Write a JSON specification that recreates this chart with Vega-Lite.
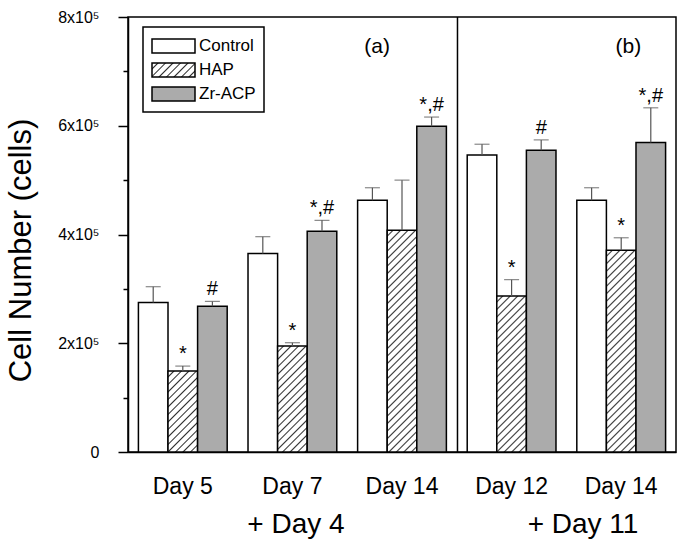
{
"$schema": "https://vega.github.io/schema/vega-lite/v6.json",
"width": 548, "height": 435,
"autosize": {"type": "none"},
"padding": {"left": 128, "top": 17, "right": 12, "bottom": 95},
"params": [{"name": "hatch", "value": [
{"offset":0,"color":"#fff"},{"offset":0.016667,"color":"#fff"},{"offset":0.022222,"color":"#333"},
{"offset":0.027778,"color":"#fff"},{"offset":0.044444,"color":"#fff"},{"offset":0.05,"color":"#333"},
{"offset":0.055556,"color":"#fff"},{"offset":0.072222,"color":"#fff"},{"offset":0.077778,"color":"#333"},
{"offset":0.083333,"color":"#fff"},{"offset":0.1,"color":"#fff"},{"offset":0.105556,"color":"#333"},
{"offset":0.111111,"color":"#fff"},{"offset":0.127778,"color":"#fff"},{"offset":0.133333,"color":"#333"},
{"offset":0.138889,"color":"#fff"},{"offset":0.155556,"color":"#fff"},{"offset":0.161111,"color":"#333"},
{"offset":0.166667,"color":"#fff"},{"offset":0.183333,"color":"#fff"},{"offset":0.188889,"color":"#333"},
{"offset":0.194444,"color":"#fff"},{"offset":0.211111,"color":"#fff"},{"offset":0.216667,"color":"#333"},
{"offset":0.222222,"color":"#fff"},{"offset":0.238889,"color":"#fff"},{"offset":0.244444,"color":"#333"},
{"offset":0.25,"color":"#fff"},{"offset":0.266667,"color":"#fff"},{"offset":0.272222,"color":"#333"},
{"offset":0.277778,"color":"#fff"},{"offset":0.294444,"color":"#fff"},{"offset":0.3,"color":"#333"},
{"offset":0.305556,"color":"#fff"},{"offset":0.322222,"color":"#fff"},{"offset":0.327778,"color":"#333"},
{"offset":0.333333,"color":"#fff"},{"offset":0.35,"color":"#fff"},{"offset":0.355556,"color":"#333"},
{"offset":0.361111,"color":"#fff"},{"offset":0.377778,"color":"#fff"},{"offset":0.383333,"color":"#333"},
{"offset":0.388889,"color":"#fff"},{"offset":0.405556,"color":"#fff"},{"offset":0.411111,"color":"#333"},
{"offset":0.416667,"color":"#fff"},{"offset":0.433333,"color":"#fff"},{"offset":0.438889,"color":"#333"},
{"offset":0.444444,"color":"#fff"},{"offset":0.461111,"color":"#fff"},{"offset":0.466667,"color":"#333"},
{"offset":0.472222,"color":"#fff"},{"offset":0.488889,"color":"#fff"},{"offset":0.494444,"color":"#333"},
{"offset":0.5,"color":"#fff"},{"offset":0.516667,"color":"#fff"},{"offset":0.522222,"color":"#333"},
{"offset":0.527778,"color":"#fff"},{"offset":0.544444,"color":"#fff"},{"offset":0.55,"color":"#333"},
{"offset":0.555556,"color":"#fff"},{"offset":0.572222,"color":"#fff"},{"offset":0.577778,"color":"#333"},
{"offset":0.583333,"color":"#fff"},{"offset":0.6,"color":"#fff"},{"offset":0.605556,"color":"#333"},
{"offset":0.611111,"color":"#fff"},{"offset":0.627778,"color":"#fff"},{"offset":0.633333,"color":"#333"},
{"offset":0.638889,"color":"#fff"},{"offset":0.655556,"color":"#fff"},{"offset":0.661111,"color":"#333"},
{"offset":0.666667,"color":"#fff"},{"offset":0.683333,"color":"#fff"},{"offset":0.688889,"color":"#333"},
{"offset":0.694444,"color":"#fff"},{"offset":0.711111,"color":"#fff"},{"offset":0.716667,"color":"#333"},
{"offset":0.722222,"color":"#fff"},{"offset":0.738889,"color":"#fff"},{"offset":0.744444,"color":"#333"},
{"offset":0.75,"color":"#fff"},{"offset":0.766667,"color":"#fff"},{"offset":0.772222,"color":"#333"},
{"offset":0.777778,"color":"#fff"},{"offset":0.794444,"color":"#fff"},{"offset":0.8,"color":"#333"},
{"offset":0.805556,"color":"#fff"},{"offset":0.822222,"color":"#fff"},{"offset":0.827778,"color":"#333"},
{"offset":0.833333,"color":"#fff"},{"offset":0.85,"color":"#fff"},{"offset":0.855556,"color":"#333"},
{"offset":0.861111,"color":"#fff"},{"offset":0.877778,"color":"#fff"},{"offset":0.883333,"color":"#333"},
{"offset":0.888889,"color":"#fff"},{"offset":0.905556,"color":"#fff"},{"offset":0.911111,"color":"#333"},
{"offset":0.916667,"color":"#fff"},{"offset":0.933333,"color":"#fff"},{"offset":0.938889,"color":"#333"},
{"offset":0.944444,"color":"#fff"},{"offset":0.961111,"color":"#fff"},{"offset":0.966667,"color":"#333"},
{"offset":0.972222,"color":"#fff"},{"offset":0.988889,"color":"#fff"},{"offset":0.994444,"color":"#333"},
{"offset":1,"color":"#fff"}
]}],
"data": {"values": [
{"day":"D5","group":"Control","cells":275000,"cap":304000,"sig":""},
{"day":"D5","group":"HAP","cells":149000,"cap":158000,"sig":"*"},
{"day":"D5","group":"Zr-ACP","cells":268000,"cap":277000,"sig":"#"},
{"day":"D7","group":"Control","cells":365000,"cap":396000,"sig":""},
{"day":"D7","group":"HAP","cells":195000,"cap":201000,"sig":"*"},
{"day":"D7","group":"Zr-ACP","cells":406000,"cap":426000,"sig":"*,#"},
{"day":"D14a","group":"Control","cells":463000,"cap":486000,"sig":""},
{"day":"D14a","group":"HAP","cells":408000,"cap":500000,"sig":""},
{"day":"D14a","group":"Zr-ACP","cells":599000,"cap":616000,"sig":"*,#"},
{"day":"D12","group":"Control","cells":546000,"cap":566000,"sig":""},
{"day":"D12","group":"HAP","cells":287000,"cap":317000,"sig":"*"},
{"day":"D12","group":"Zr-ACP","cells":555000,"cap":574000,"sig":"#"},
{"day":"D14b","group":"Control","cells":463000,"cap":486000,"sig":""},
{"day":"D14b","group":"HAP","cells":371000,"cap":394000,"sig":"*"},
{"day":"D14b","group":"Zr-ACP","cells":569000,"cap":633000,"sig":"*,#"}
]},
"layer": [
{
"mark": {"type": "bar", "stroke": "black", "strokeWidth": 1.5},
"encoding": {
"x": {"field": "day", "type": "nominal", "title": null,
 "scale": {"domain": ["D5","D7","D14a","D12","D14b"], "paddingInner": 0.19, "paddingOuter": 0.095},
 "axis": {"ticks": false, "labelFontSize": 23, "labelPadding": 23, "labelAngle": 0,
  "labelExpr": "{'D5':'Day 5','D7':'Day 7','D14a':'Day 14','D12':'Day 12','D14b':'Day 14'}[datum.value]"}},
"xOffset": {"field": "group", "type": "nominal", "scale": {"domain": ["Control","HAP","Zr-ACP"]}},
"y": {"field": "cells", "type": "quantitative", "title": "Cell Number (cells)",
 "scale": {"domain": [0, 800000]},
 "axis": {"values": [0,100000,200000,300000,400000,500000,600000,700000,800000],
  "labelExpr": "datum.value % 200000 === 0 ? (datum.value === 0 ? '0' : (datum.value/100000) + 'x10⁵') : ''",
  "tickSize": {"condition": {"test": "datum.value % 200000 === 0", "value": 10}, "value": 5},
  "labelFontSize": 16, "labelPadding": 19, "titleFontSize": 31, "titleFontWeight": "normal", "titlePadding": 20, "titleY": 233}},
"fill": {"field": "group", "type": "nominal",
 "scale": {"domain": ["Control","HAP","Zr-ACP"], "range": ["#ffffff", {"expr": "{gradient:'linear',x1:0,y1:0,x2:5.677,y2:1.848,stops:hatch}"}, "#ababab"]},
 "condition": {"test": "datum.group === 'HAP'",
  "value": {"expr": "{gradient:'linear',x1:0,y1:0,x2:270*bandwidth('xOffset')/(bandwidth('xOffset')*bandwidth('xOffset')+(scale('y',0)-scale('y',datum.cells))*(scale('y',0)-scale('y',datum.cells))),y2:270*(scale('y',0)-scale('y',datum.cells))/(bandwidth('xOffset')*bandwidth('xOffset')+(scale('y',0)-scale('y',datum.cells))*(scale('y',0)-scale('y',datum.cells))),stops:hatch}"}},
 "legend": {"title": null, "orient": "none", "legendX": 15, "legendY": 10,
  "symbolType": "M-1,-0.7L3.3,-0.7L3.3,0.7L-1,0.7Z", "symbolSize": 400,
  "symbolStrokeColor": "black", "symbolStrokeWidth": 1.5,
  "labelFontSize": 17, "labelOffset": 26, "rowPadding": 3, "padding": 8,
  "strokeColor": "black", "fillColor": "white",
  "encode": {"symbols": {"update": {
   "stroke": {"value": "black"},
   "strokeWidth": {"value": 1.5}}}}}}
}
},
{
"mark": {"type": "rule", "color": "#555", "strokeWidth": 1.2},
"encoding": {
"x": {"field": "day", "type": "nominal", "title": null, "scale": {"domain": ["D5","D7","D14a","D12","D14b"], "paddingInner": 0.19, "paddingOuter": 0.095}},
"xOffset": {"field": "group", "type": "nominal", "scale": {"domain": ["Control","HAP","Zr-ACP"]}},
"y": {"field": "cells", "type": "quantitative", "title": "Cell Number (cells)", "scale": {"domain": [0, 800000]}},
"y2": {"field": "cap"}
}
},
{
"mark": {"type": "tick", "color": "#555", "thickness": 1.2, "size": 15},
"encoding": {
"x": {"field": "day", "type": "nominal", "title": null, "scale": {"domain": ["D5","D7","D14a","D12","D14b"], "paddingInner": 0.19, "paddingOuter": 0.095}},
"xOffset": {"field": "group", "type": "nominal", "scale": {"domain": ["Control","HAP","Zr-ACP"]}},
"y": {"field": "cap", "type": "quantitative", "title": "Cell Number (cells)", "scale": {"domain": [0, 800000]}}
}
},
{
"mark": {"type": "text", "fontSize": 20, "dy": -6, "baseline": "alphabetic", "color": "black"},
"encoding": {
"x": {"field": "day", "type": "nominal", "title": null, "scale": {"domain": ["D5","D7","D14a","D12","D14b"], "paddingInner": 0.19, "paddingOuter": 0.095}},
"xOffset": {"field": "group", "type": "nominal", "scale": {"domain": ["Control","HAP","Zr-ACP"]}},
"y": {"field": "cap", "type": "quantitative", "title": "Cell Number (cells)", "scale": {"domain": [0, 800000]}},
"text": {"field": "sig"}
}
},
{
"data": {"values": [{"day": "D14a"}]},
"mark": {"type": "rule", "color": "black", "strokeWidth": 1.5},
"encoding": {
"x": {"field": "day", "type": "nominal", "title": null, "bandPosition": 1.125, "scale": {"domain": ["D5","D7","D14a","D12","D14b"], "paddingInner": 0.19, "paddingOuter": 0.095}}
}
},
{
"data": {"values": [{"day": "D14a", "label": "(a)"}]},
"mark": {"type": "text", "fontSize": 21, "baseline": "alphabetic", "align": "center", "color": "black"},
"encoding": {
"x": {"field": "day", "type": "nominal", "title": null, "bandPosition": 0.22, "scale": {"domain": ["D5","D7","D14a","D12","D14b"], "paddingInner": 0.19, "paddingOuter": 0.095}},
"y": {"datum": 733000, "type": "quantitative", "title": "Cell Number (cells)", "scale": {"domain": [0, 800000]}},
"text": {"field": "label"}
}
},
{
"data": {"values": [{"day": "D14b", "label": "(b)"}]},
"mark": {"type": "text", "fontSize": 21, "baseline": "alphabetic", "align": "center", "color": "black"},
"encoding": {
"x": {"field": "day", "type": "nominal", "title": null, "bandPosition": 0.58, "scale": {"domain": ["D5","D7","D14a","D12","D14b"], "paddingInner": 0.19, "paddingOuter": 0.095}},
"y": {"datum": 733000, "type": "quantitative", "title": "Cell Number (cells)", "scale": {"domain": [0, 800000]}},
"text": {"field": "label"}
}
},
{
"data": {"values": [{"day": "D7", "label": "+ Day 4"}]},
"mark": {"type": "text", "fontSize": 28, "baseline": "alphabetic", "align": "center", "color": "black"},
"encoding": {
"x": {"field": "day", "type": "nominal", "title": null, "bandPosition": 0.54, "scale": {"domain": ["D5","D7","D14a","D12","D14b"], "paddingInner": 0.19, "paddingOuter": 0.095}},
"y": {"datum": -149000, "type": "quantitative", "title": "Cell Number (cells)", "scale": {"domain": [0, 800000]}},
"text": {"field": "label"}
}
},
{
"data": {"values": [{"day": "D14b", "label": "+ Day 11"}]},
"mark": {"type": "text", "fontSize": 28, "baseline": "alphabetic", "align": "center", "color": "black"},
"encoding": {
"x": {"field": "day", "type": "nominal", "title": null, "bandPosition": 0.07, "scale": {"domain": ["D5","D7","D14a","D12","D14b"], "paddingInner": 0.19, "paddingOuter": 0.095}},
"y": {"datum": -149000, "type": "quantitative", "title": "Cell Number (cells)", "scale": {"domain": [0, 800000]}},
"text": {"field": "label"}
}
}
],
"config": {
"font": "Liberation Sans",
"view": {"stroke": "black", "strokeWidth": 1.5},
"axis": {"grid": false, "domainColor": "black", "domainWidth": 1.5, "tickColor": "black", "tickWidth": 1.5, "labelColor": "black", "titleColor": "black"},
"legend": {"strokeWidth": 1.5}
}
}
